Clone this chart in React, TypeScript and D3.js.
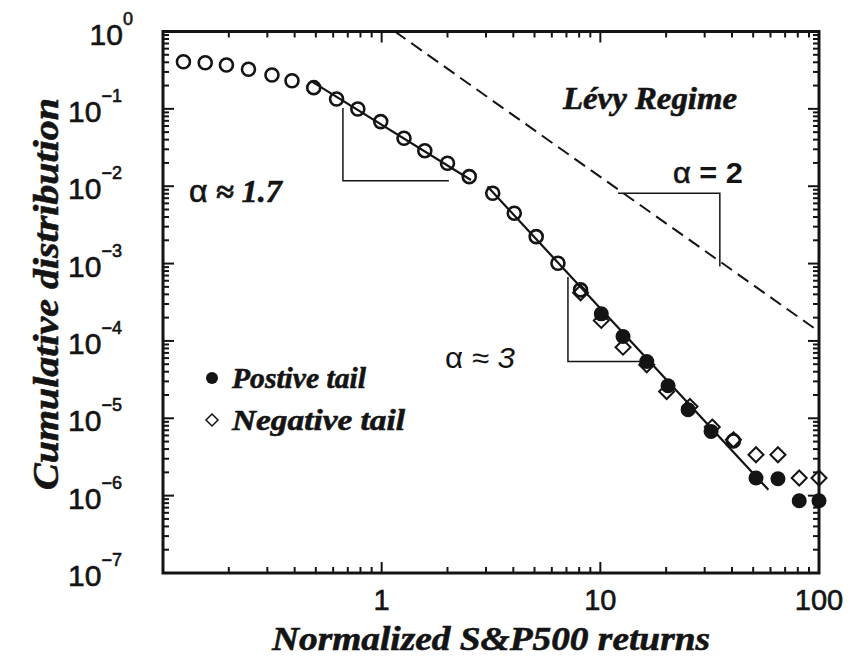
import React from "react";
import * as d3 from "d3";

// ---- Data ----
const bodyX = [0.124, 0.156, 0.195, 0.246, 0.315, 0.389, 0.489, 0.622, 0.778, 0.99, 1.265, 1.575, 2.0, 2.515, 3.22, 4.04, 5.09, 6.4, 8.12, 40.6];
const bodyY = [0.407, 0.395, 0.369, 0.325, 0.274, 0.231, 0.188, 0.134, 0.0997, 0.0684, 0.0417, 0.0288, 0.0198, 0.0133, 0.00812, 0.00448, 0.00223, 0.00101, 4.57e-4, 5.1e-6];

const posX = [10.1, 12.7, 16.3, 20.4, 25.2, 32.1, 51.5, 64.9, 81.2, 100];
const posY = [2.24e-4, 1.14e-4, 5.42e-5, 2.63e-5, 1.29e-5, 6.75e-6, 1.69e-6, 1.65e-6, 8.6e-7, 8.6e-7];

const negX = [8.12, 10.1, 12.7, 16.3, 20.1, 25.7, 32.5, 40.6, 51.5, 64.9, 81.2, 100];
const negY = [4.2e-4, 1.84e-4, 8.3e-5, 4.91e-5, 2.22e-5, 1.42e-5, 7.7e-6, 5.27e-6, 3.38e-6, 3.38e-6, 1.69e-6, 1.69e-6];

const fitLevyX = [0.48, 2.56];
const fitLevyY = [0.2245, 0.01205];
const fitTailX = [3.05, 58.7];
const fitTailY = [0.00988, 1.19e-6];
const dashX = [1.149, 100];
const dashY = [1, 1.32e-4];

const tri1X = [0.665, 0.665, 2.03];
const tri1Y = [0.1027, 0.0118, 0.0118];
const tri2X = [12.05, 35.2, 35.2];
const tri2Y = [0.00812, 0.00812, 9.15e-4];
const tri3X = [7.11, 7.11, 15.4];
const tri3Y = [6.73e-4, 5.42e-5, 5.42e-5];

const xTickValues = [1, 10, 100];
const xTickLabels = ["1", "10", "100"];
const yTickExponents = [0, -1, -2, -3, -4, -5, -6, -7];

const X_LABEL = "Normalized S&P500 returns";
const Y_LABEL = "Cumulative distribution";
const LEGEND_POS = "Postive tail";
const LEGEND_NEG = "Negative tail";

const W = 854, H = 660;
const L = 163, R = 819, T = 31.5, B = 573;

const serif = "'Liberation Serif', 'Times New Roman', serif";
const sans = "'Liberation Sans', Arial, Helvetica, sans-serif";
const INK = "#141414";

export default function App() {
  const x = d3.scaleLog().domain([0.1, 100]).range([L, R]);
  const y = d3.scaleLog().domain([1e-7, 1]).range([B, T]);
  const line = d3.line<[number, number]>().x(d => x(d[0])).y(d => y(d[1]));
  const zip = (a: number[], b: number[]) => a.map((v, i) => [v, b[i]] as [number, number]);

  const xMinor: number[] = [];
  for (let e = -1; e < 2; e++) for (let k = 2; k <= 9; k++) xMinor.push(k * Math.pow(10, e));
  const yMinor: number[] = [];
  for (let e = -7; e < 0; e++) for (let k = 2; k <= 9; k++) yMinor.push(k * Math.pow(10, e));
  const xMajor = [0.1, 1, 10, 100];
  const yMajor = yTickExponents.map(e => Math.pow(10, e));

  const diamond = (cx: number, cy: number, s: number) =>
    `M${cx},${cy - s}L${cx + s},${cy}L${cx},${cy + s}L${cx - s},${cy}Z`;

  const heavy = { stroke: INK, strokeWidth: 0.6 };

  return (
    <svg width={W} height={H} style={{ position: "absolute", left: 0, top: 0, background: "#fff" }}>
      <rect x={0} y={0} width={W} height={H} fill="#fff" />
      <defs>
        <clipPath id="plot">
          <rect x={L} y={T} width={R - L} height={B - T} />
        </clipPath>
      </defs>

      {/* ticks */}
      <g stroke={INK} strokeWidth={2}>
        {xMajor.map(v => (
          <g key={"xM" + v}>
            <line x1={x(v)} x2={x(v)} y1={B} y2={B - 11} />
            <line x1={x(v)} x2={x(v)} y1={T} y2={T + 11} />
          </g>
        ))}
        {xMinor.map(v => (
          <g key={"xm" + v}>
            <line x1={x(v)} x2={x(v)} y1={B} y2={B - 6} />
            <line x1={x(v)} x2={x(v)} y1={T} y2={T + 6} />
          </g>
        ))}
        {yMajor.map(v => (
          <g key={"yM" + v}>
            <line x1={L} x2={L + 11} y1={y(v)} y2={y(v)} />
            <line x1={R} x2={R - 11} y1={y(v)} y2={y(v)} />
          </g>
        ))}
        {yMinor.map(v => (
          <g key={"ym" + v}>
            <line x1={L} x2={L + 6} y1={y(v)} y2={y(v)} />
            <line x1={R} x2={R - 6} y1={y(v)} y2={y(v)} />
          </g>
        ))}
      </g>
      <rect x={L} y={T} width={R - L} height={B - T} fill="none" stroke={INK} strokeWidth={3} />

      {/* tick labels */}
      {xTickValues.map((v, i) => (
        <text key={"xl" + v} x={x(v)} y={610} textAnchor="middle" fontFamily={sans} fontSize={29} fill={INK} {...heavy}>
          {xTickLabels[i]}
        </text>
      ))}
      {yTickExponents.map(e => {
        const py = y(Math.pow(10, e));
        const right = e === 0 ? 133 : 122;
        const supStr = e === 0 ? "0" : "\u2212" + Math.abs(e);
        return (
          <text key={"yl" + e} x={right} y={py + 13} textAnchor="end" fontFamily={sans} fontSize={30} fill={INK} {...heavy}>
            10
            <tspan dy={-20} fontSize={18}>{supStr}</tspan>
          </text>
        );
      })}

      {/* axis titles */}
      <text x={272} y={650} textLength={438} lengthAdjust="spacingAndGlyphs" fontFamily={serif} fontStyle="italic" fontWeight="bold" fontSize={34} fill={INK} {...heavy}>
        {X_LABEL}
      </text>
      <text transform={`translate(58,490) rotate(-90)`} textLength={392} lengthAdjust="spacingAndGlyphs" fontFamily={serif} fontStyle="italic" fontWeight="bold" fontSize={35} fill={INK} {...heavy}>
        {Y_LABEL}
      </text>

      <g clipPath="url(#plot)">
        <path d={line(zip(dashX, dashY)) || ""} fill="none" stroke={INK} strokeWidth={2} strokeDasharray="13,7" />
        <path d={line(zip(tri1X, tri1Y)) || ""} fill="none" stroke={INK} strokeWidth={1.5} />
        <path d={line(zip(tri2X, tri2Y)) || ""} fill="none" stroke={INK} strokeWidth={1.5} />
        <path d={line(zip(tri3X, tri3Y)) || ""} fill="none" stroke={INK} strokeWidth={1.5} />
        <path d={line(zip(fitLevyX, fitLevyY)) || ""} fill="none" stroke={INK} strokeWidth={2.2} />
        <path d={line(zip(fitTailX, fitTailY)) || ""} fill="none" stroke={INK} strokeWidth={2.2} />
      </g>

      {/* points */}
      {bodyX.map((v, i) => (
        <circle key={"b" + i} cx={x(v)} cy={y(bodyY[i])} r={6.5} fill="none" stroke={INK} strokeWidth={2.6} />
      ))}
      {posX.map((v, i) => (
        <circle key={"p" + i} cx={x(v)} cy={y(posY[i])} r={7.5} fill={INK} />
      ))}
      {negX.map((v, i) => (
        <path key={"n" + i} d={diamond(x(v), y(negY[i]), 7.5)} fill="none" stroke={INK} strokeWidth={2} />
      ))}

      {/* annotations */}
      <text x={189} y={202} textLength={93} lengthAdjust="spacingAndGlyphs" fontFamily={serif} fontSize={31} fill={INK}>
        <tspan fontFamily={sans} {...heavy}>α</tspan>
        <tspan fontStyle="italic" fontWeight="bold" {...heavy}> ≈ 1.7</tspan>
      </text>
      <text x={563} y={109} textLength={174} lengthAdjust="spacingAndGlyphs" fontFamily={serif} fontStyle="italic" fontWeight="bold" fontSize={31} fill={INK} {...heavy}>
        Lévy Regime
      </text>
      <text x={673} y={183} textLength={70} lengthAdjust="spacingAndGlyphs" fontFamily={sans} fontWeight="bold" fontSize={29} fill={INK}>
        <tspan fontWeight="normal" {...heavy}>α</tspan> = 2
      </text>
      <text x={445} y={368} textLength={70} lengthAdjust="spacingAndGlyphs" fontFamily={sans} fontStyle="italic" fontSize={29} fill={INK}>
        <tspan fontStyle="normal">α</tspan> ≈ 3
      </text>

      {/* legend */}
      <circle cx={212} cy={378} r={6} fill={INK} />
      <text x={232} y={388} textLength={134} lengthAdjust="spacingAndGlyphs" fontFamily={serif} fontStyle="italic" fontWeight="bold" fontSize={30} fill={INK} {...heavy}>
        {LEGEND_POS}
      </text>
      <path d={diamond(212, 420, 6)} fill="none" stroke={INK} strokeWidth={1.5} />
      <text x={232} y={430} textLength={173} lengthAdjust="spacingAndGlyphs" fontFamily={serif} fontStyle="italic" fontWeight="bold" fontSize={30} fill={INK} {...heavy}>
        {LEGEND_NEG}
      </text>
    </svg>
  );
}
